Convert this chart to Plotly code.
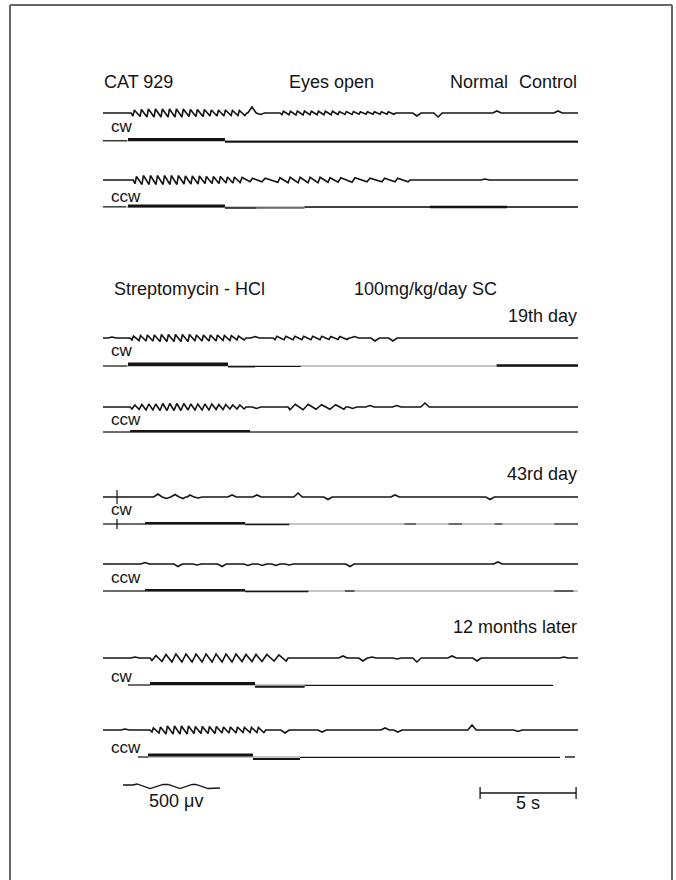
import plotly.graph_objects as go

# ------------------------------------------------------------------
# DATA (time in seconds from trace start; deflections in trace units,
# positive = upward).
# ------------------------------------------------------------------
T_END = 24.74           # length of each recording strip (s)
SCALE_BAR_S = 5         # time calibration bar (s)
SCALE_BAR_T0 = 19.64    # start of time bar (s)

# ---- Normal control (eyes open) ----
nc_cw_beat_t = [1.56, 1.93, 2.29, 2.66, 3.02, 3.39, 3.75, 4.11, 4.48, 4.84, 5.21, 5.57, 5.94, 6.30, 6.67, 7.03,
                9.32, 9.69, 10.05, 10.42, 10.78, 11.15, 11.51, 11.88, 12.24, 12.60, 12.97, 13.33, 13.70, 14.06, 14.43, 14.79]
nc_cw_beat_a = [6, 7, 8, 8, 8, 8, 8, 8, 7, 7, 7, 6, 6, 6, 5, 5,
                3.5, 3.5, 4, 4, 3.5, 3.5, 3.5, 3.5, 3, 3, 3, 2.5, 2.5, 2.5, 2.5, 2.5]
nc_cw_ev_t = [7.76, 8.2, 16.35, 17.45, 20.52, 23.70]
nc_cw_ev_a = [6, -1.5, -3, -4, 2, 2]

nc_ccw_beat_t = [1.67, 2.03, 2.40, 2.76, 3.13, 3.49, 3.85, 4.22, 4.58, 4.95, 5.31, 5.68, 6.04, 6.41, 6.77, 7.14,
                 7.66, 8.28,
                 9.11, 9.64, 10.16, 10.68, 11.20, 11.72, 12.24, 12.97, 13.75, 14.53, 15.21]
nc_ccw_beat_a = [7, 9, 9, 9, 9, 9, 9, 8, 8, 8, 7, 7, 7, 6, 6, 5,
                 3.5, 3.5,
                 4.5, 5.5, 5.5, 5.5, 5.5, 4.5, 4.5, 4.5, 3.5, 3.5, 3.5]
nc_ccw_ev_t = [19.9]
nc_ccw_ev_a = [1]

# lower (stimulus) traces: segment start, end, level offset, signal spread
nc_cw_lo_span = [[0.0, T_END]]
nc_cw_lo_t0 = [0.0, 1.30, 6.35]
nc_cw_lo_t1 = [1.25, 6.35, T_END]
nc_cw_lo_dy = [0.3, 1.5, -0.8]
nc_cw_lo_sp = [0.8, 3.0, 2.0]

nc_ccw_lo_span = [[0.0, T_END]]
nc_ccw_lo_t0 = [0.0, 1.30, 6.35, 8.0, 10.5, 17.03]
nc_ccw_lo_t1 = [1.20, 6.35, 8.0, 10.5, T_END, 21.04]
nc_ccw_lo_dy = [0.2, 1.0, -1.0, -1.0, 0.0, 0.0]
nc_ccw_lo_sp = [0.8, 3.0, 1.5, 1.0, 1.5, 2.5]

# ---- Streptomycin 19th day ----
d19_cw_beat_t = [1.51, 1.88, 2.24, 2.60, 2.97, 3.33, 3.70, 4.06, 4.43, 4.79, 5.16, 5.52, 5.89, 6.25, 6.61, 6.98,
                 8.96, 9.43, 9.90, 10.36, 10.83, 11.30, 11.77, 12.24]
d19_cw_beat_a = [4, 5, 6, 6, 7, 7, 7, 7, 7, 6, 6, 6, 6, 5, 5, 4,
                 3.5, 3.5, 3.5, 3.5, 3.5, 3.5, 3, 3]
d19_cw_ev_t = [0.47, 7.92, 13.10, 14.17, 15.10]
d19_cw_ev_a = [1, 1.5, 1.5, -3, -3]

d19_ccw_beat_t = [1.51, 1.88, 2.24, 2.60, 2.97, 3.33, 3.70, 4.06, 4.43, 4.79, 5.16, 5.52, 5.89, 6.25, 6.61, 6.98,
                  9.74, 10.42, 11.09, 11.82]
d19_ccw_beat_a = [4, 5, 6, 6, 7, 7, 7, 7, 6, 6, 6, 6, 5, 5, 4, 4,
                  5.5, 5.5, 4.5, 4.5]
d19_ccw_ev_t = [8.0, 13.0, 13.9, 15.3, 16.77]
d19_ccw_ev_a = [-1.5, -1.5, 1.5, 1.5, 4]

d19_cw_lo_span = [[0.0, T_END]]
d19_cw_lo_t0 = [0.0, 1.30, 6.51, 7.92, 20.5]
d19_cw_lo_t1 = [1.25, 6.51, 7.92, 10.3, T_END]
d19_cw_lo_dy = [0.0, 1.7, -0.7, -0.5, 0.5]
d19_cw_lo_sp = [0.8, 3.5, 1.5, 1.0, 2.5]

d19_ccw_lo_span = [[0.0, T_END]]
d19_ccw_lo_t0 = [0.0, 1.41, 7.66]
d19_ccw_lo_t1 = [1.41, 7.66, T_END]
d19_ccw_lo_dy = [0.0, 0.8, 0.0]
d19_ccw_lo_sp = [0.8, 2.5, 1.2]

# ---- 43rd day ----
d43_mark_t = 0.73
d43_cw_beat_t, d43_cw_beat_a = [], []
d43_cw_ev_t = [2.86, 3.30, 3.75, 4.17, 4.53, 4.95, 6.72, 8.02, 10.16, 11.72, 15.21, 20.16]
d43_cw_ev_a = [3, -1.5, 2.5, -1.5, 2, -1, 2, 2, 4, -2.5, 2, -2.5]

d43_ccw_beat_t, d43_ccw_beat_a = [], []
d43_ccw_ev_t = [2.19, 3.91, 4.90, 6.20, 7.55, 8.3, 9.0, 9.7, 12.86, 20.57]
d43_ccw_ev_a = [1.5, -2.5, -1, -2.5, -1.5, -1.5, -1.5, -1, -2.5, 2]

d43_cw_lo_span = [[0.0, T_END]]
d43_cw_lo_t0 = [0.0, 2.19, 7.40, 15.7, 18.0, 20.4, 23.5]
d43_cw_lo_t1 = [2.19, 7.40, 9.70, 16.3, 18.7, 20.8, T_END]
d43_cw_lo_dy = [0.0, 0.8, -0.5, 0.0, 0.0, 0.0, 0.0]
d43_cw_lo_sp = [0.8, 2.5, 1.5, 1.0, 1.0, 1.0, 1.0]

d43_ccw_lo_span = [[0.0, T_END]]
d43_ccw_lo_t0 = [0.0, 2.19, 7.40, 12.6, 23.5]
d43_ccw_lo_t1 = [2.19, 7.40, 10.7, 13.1, 24.5]
d43_ccw_lo_dy = [0.0, 0.8, -0.6, 0.0, 0.0]
d43_ccw_lo_sp = [0.8, 2.5, 1.5, 1.2, 1.2]

# ---- 12 months later ----
m12_cw_beat_t = [2.55, 3.07, 3.59, 4.11, 4.64, 5.16, 5.68, 6.20, 6.72, 7.24, 7.76, 8.28, 8.91]
m12_cw_beat_a = [5, 7, 8, 8, 8, 8, 8, 8, 8, 7, 7, 7, 6]
m12_cw_ev_t = [1.67, 12.50, 13.54, 14.01, 15.31, 16.35, 18.18, 19.48, 24.0]
m12_cw_ev_a = [1, 2, -3, 1, -1, -4, 2, -3, 1]

m12_ccw_beat_t = [2.55, 2.92, 3.28, 3.65, 4.01, 4.38, 4.74, 5.10, 5.47, 5.83, 6.20, 6.56, 6.93, 7.29, 7.66, 8.02]
m12_ccw_beat_a = [4, 6, 8, 8, 8, 8, 7, 7, 7, 7, 6, 6, 6, 5, 5, 5]
m12_ccw_ev_t = [1.15, 9.48, 11.41, 14.69, 15.36, 19.22, 21.61]
m12_ccw_ev_a = [1, -3, -2, 2, -2, 5, -1.5]

m12_cw_lo_span = [[1.30, 23.44]]
m12_cw_lo_t0 = [1.30, 2.45, 7.92, 10.5]
m12_cw_lo_t1 = [2.45, 7.92, 10.5, 23.44]
m12_cw_lo_dy = [0.0, 1.5, -1.8, -0.5]
m12_cw_lo_sp = [1.0, 3.0, 2.0, 1.0]

m12_ccw_lo_span = [[1.82, 23.80], [24.06, 24.58]]
m12_ccw_lo_t0 = [1.82, 2.34, 7.81, 10.26, 24.06]
m12_ccw_lo_t1 = [2.34, 7.81, 10.26, 23.80, 24.58]
m12_ccw_lo_dy = [0.0, 2.0, -2.0, -0.5, 0.0]
m12_ccw_lo_sp = [1.0, 3.0, 2.0, 1.2, 1.2]

# ---- 500 uV calibration signal ----
cal_t = [1.04, 1.56, 1.77, 2.45, 3.13, 3.39, 4.01, 4.64, 4.84, 5.47, 6.09]
cal_v = [1, 1, 2, -2.5, 1.5, 1.5, -2.5, 1.5, 1.5, -2.5, -2]

# ------------------------------------------------------------------
# LAYOUT / STYLE
# ------------------------------------------------------------------
W, H = 676, 880
PX0 = 103.0          # left edge of strips (px)
PX_PER_S = 19.2      # chart speed (px per second)
FONT = "Liberation Sans, Arial, Helvetica, sans-serif"
INK = "#141414"

# baselines of each strip (page rows, px from top)
rows = {
    "nc_cw": 113, "nc_cw_lo": 141, "nc_ccw": 180, "nc_ccw_lo": 207,
    "d19_cw": 338, "d19_cw_lo": 366, "d19_ccw": 407, "d19_ccw_lo": 432,
    "d43_cw": 497, "d43_cw_lo": 524, "d43_ccw": 564, "d43_ccw_lo": 591,
    "m12_cw": 658, "m12_cw_lo": 685, "m12_ccw": 730, "m12_ccw_lo": 757,
    "cal": 786, "bar": 793,
}


def eye_points(beat_t, beat_a, ev_t, ev_a, rise=0.2, ev_w=0.22):
    pts = [(0.0, 0.0), (T_END, 0.0)]
    n = len(beat_t)
    for i in range(n):
        t, a = beat_t[i], beat_a[i]
        prev_gap = t - beat_t[i - 1] if i > 0 else None
        next_gap = beat_t[i + 1] - t if i < n - 1 else None
        g_start = prev_gap is None or prev_gap > 0.9
        g_end = next_gap is None or next_gap > 0.9
        if not g_end:
            per = next_gap
        elif prev_gap is not None and prev_gap <= 0.9:
            per = prev_gap
        else:
            per = 0.4
        if g_start:
            pts.append((t - 0.1, 0.0))
        pts.append((t, -a / 2.0))
        pts.append((t + rise * per, a / 2.0))
        if g_end:
            pts.append((t + per, -a / 2.0))
            pts.append((t + per + 0.1, 0.0))
    for t, a in zip(ev_t, ev_a):
        pts += [(t - ev_w, 0.0), (t, a), (t + ev_w, 0.0)]
    pts.sort()
    return [p[0] for p in pts], [p[1] for p in pts]


fig = go.Figure()


def add_eye(key, bt, ba, et, ea, rise=0.2):
    xs, vs = eye_points(bt, ba, et, ea, rise=rise)
    base = rows[key]
    fig.add_trace(go.Scatter(x=xs, y=[base - v for v in vs], mode="lines",
                             line=dict(color=INK, width=1.6), hoverinfo="skip",
                             showlegend=False))


def add_lower(key, spans, t0, t1, dy, sp):
    base = rows[key]
    for s0, s1 in spans:
        fig.add_trace(go.Scatter(x=[s0, s1], y=[base, base], mode="lines",
                                 line=dict(color="#8a8a8a", width=1), hoverinfo="skip",
                                 showlegend=False))
    for a, b, d, s in zip(t0, t1, dy, sp):
        fig.add_trace(go.Scatter(x=[a, b], y=[base - d, base - d], mode="lines",
                                 line=dict(color=INK, width=max(1.0, s)), hoverinfo="skip",
                                 showlegend=False))


add_eye("nc_cw", nc_cw_beat_t, nc_cw_beat_a, nc_cw_ev_t, nc_cw_ev_a)
add_lower("nc_cw_lo", nc_cw_lo_span, nc_cw_lo_t0, nc_cw_lo_t1, nc_cw_lo_dy, nc_cw_lo_sp)
add_eye("nc_ccw", nc_ccw_beat_t, nc_ccw_beat_a, nc_ccw_ev_t, nc_ccw_ev_a)
add_lower("nc_ccw_lo", nc_ccw_lo_span, nc_ccw_lo_t0, nc_ccw_lo_t1, nc_ccw_lo_dy, nc_ccw_lo_sp)

add_eye("d19_cw", d19_cw_beat_t, d19_cw_beat_a, d19_cw_ev_t, d19_cw_ev_a)
add_lower("d19_cw_lo", d19_cw_lo_span, d19_cw_lo_t0, d19_cw_lo_t1, d19_cw_lo_dy, d19_cw_lo_sp)
add_eye("d19_ccw", d19_ccw_beat_t, d19_ccw_beat_a, d19_ccw_ev_t, d19_ccw_ev_a, rise=0.4)
add_lower("d19_ccw_lo", d19_ccw_lo_span, d19_ccw_lo_t0, d19_ccw_lo_t1, d19_ccw_lo_dy, d19_ccw_lo_sp)

add_eye("d43_cw", d43_cw_beat_t, d43_cw_beat_a, d43_cw_ev_t, d43_cw_ev_a)
add_lower("d43_cw_lo", d43_cw_lo_span, d43_cw_lo_t0, d43_cw_lo_t1, d43_cw_lo_dy, d43_cw_lo_sp)
add_eye("d43_ccw", d43_ccw_beat_t, d43_ccw_beat_a, d43_ccw_ev_t, d43_ccw_ev_a)
add_lower("d43_ccw_lo", d43_ccw_lo_span, d43_ccw_lo_t0, d43_ccw_lo_t1, d43_ccw_lo_dy, d43_ccw_lo_sp)

add_eye("m12_cw", m12_cw_beat_t, m12_cw_beat_a, m12_cw_ev_t, m12_cw_ev_a, rise=0.4)
add_lower("m12_cw_lo", m12_cw_lo_span, m12_cw_lo_t0, m12_cw_lo_t1, m12_cw_lo_dy, m12_cw_lo_sp)
add_eye("m12_ccw", m12_ccw_beat_t, m12_ccw_beat_a, m12_ccw_ev_t, m12_ccw_ev_a)
add_lower("m12_ccw_lo", m12_ccw_lo_span, m12_ccw_lo_t0, m12_ccw_lo_t1, m12_ccw_lo_dy, m12_ccw_lo_sp)

# event marker on the 43rd-day strips
for k, half in (("d43_cw", 7), ("d43_cw_lo", 5)):
    fig.add_trace(go.Scatter(x=[d43_mark_t, d43_mark_t], y=[rows[k] - half, rows[k] + half],
                             mode="lines", line=dict(color=INK, width=1.2),
                             hoverinfo="skip", showlegend=False))

# 500 uV calibration
fig.add_trace(go.Scatter(x=cal_t, y=[rows["cal"] - v for v in cal_v], mode="lines",
                         line=dict(color=INK, width=1.3), hoverinfo="skip", showlegend=False))

# 5 s time bar
tb0, tb1 = SCALE_BAR_T0, SCALE_BAR_T0 + SCALE_BAR_S
yb = rows["bar"]
fig.add_trace(go.Scatter(x=[tb0, tb1, None, tb0, tb0, None, tb1, tb1],
                         y=[yb, yb, None, yb - 6, yb + 6, None, yb - 6, yb + 6],
                         mode="lines", line=dict(color=INK, width=1.3),
                         hoverinfo="skip", showlegend=False))


def px(xp):
    return xp / W


def py(yp):
    return 1 - yp / H


texts = [
    ("CAT 929", 102, 81.8, "left", 18),
    ("Eyes open", 287, 81.8, "left", 18),
    ("Normal", 510, 81.8, "right", 18),
    ("Control", 579, 81.8, "right", 18),
    ("cw", 109, 126.5, "left", 17),
    ("ccw", 109, 196.5, "left", 17),
    ("Streptomycin - HCl", 112, 288.5, "left", 18),
    ("100mg/kg/day SC", 352, 288.5, "left", 18),
    ("19th day", 579, 315.5, "right", 18),
    ("cw", 109, 350.5, "left", 17),
    ("ccw", 109, 419.5, "left", 17),
    ("43rd day", 579, 473.8, "right", 18),
    ("cw", 109, 509.8, "left", 17),
    ("ccw", 109, 577.8, "left", 17),
    ("12 months later", 579, 626.8, "right", 18),
    ("cw", 109, 676.5, "left", 17),
    ("ccw", 109, 747.8, "left", 17),
    ("500 \u03bcv", 147, 801, "left", 18),
    ("5 s", 528, 803, "center", 18),
]
annotations = []
for txt, x, y, anc, size in texts:
    annotations.append(dict(text=txt, x=px(x), y=py(y), xref="paper", yref="paper",
                            xanchor=anc, yanchor="middle", showarrow=False,
                            font=dict(family=FONT, size=size, color=INK)))

# page frame (top, left, right)
frame_col = "#666666"
shapes = [
    dict(type="line", xref="paper", yref="paper", x0=px(10), x1=px(10), y0=0, y1=py(5),
         line=dict(color=frame_col, width=2)),
    dict(type="line", xref="paper", yref="paper", x0=px(10), x1=px(672), y0=py(5), y1=py(5),
         line=dict(color=frame_col, width=2)),
    dict(type="line", xref="paper", yref="paper", x0=px(672), x1=px(672), y0=0, y1=py(5),
         line=dict(color=frame_col, width=2)),
]

fig.update_layout(
    width=W, height=H,
    margin=dict(l=0, r=0, t=0, b=0),
    paper_bgcolor="white", plot_bgcolor="white",
    xaxis=dict(range=[-PX0 / PX_PER_S, (W - PX0) / PX_PER_S], visible=False, fixedrange=True),
    yaxis=dict(range=[H, 0], visible=False, fixedrange=True),
    annotations=annotations, shapes=shapes, showlegend=False,
)

fig.write_html("out.html", config={"displayModeBar": False},
               post_script="document.body.style.margin='0px';document.body.style.overflow='hidden';")
